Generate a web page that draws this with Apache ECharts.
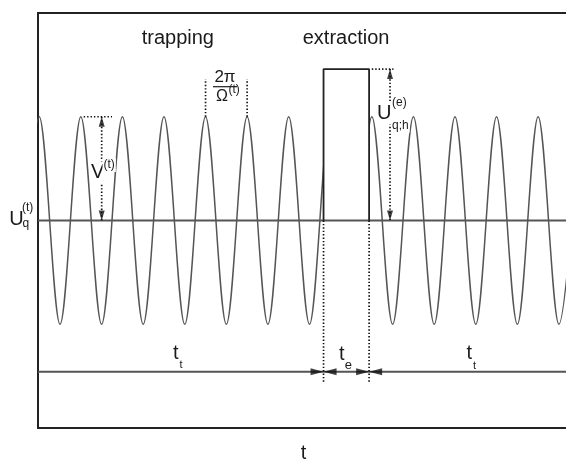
<!DOCTYPE html>
<html><head><meta charset="utf-8">
<script src="https://cdn.jsdelivr.net/npm/echarts@6/dist/echarts.min.js"></script>
<style>html,body{margin:0;padding:0;background:#fff}#c{width:566px;height:461px}</style>
</head><body><div id="c"></div>
<script>
// ---- data (time in RF periods, voltage in units of V(t)) ----
const tRange = [0, 12.7];
const uRange = [-2, 2];
const waveTimes  = [-0.47,0.03,0.53,1.03,1.53,2.03,2.53,3.03,3.53,4.03,4.53,5.03,5.53,6.03,6.53,7.03,7.53,8.03,8.53,9.03,9.53,10.03,10.53,11.03,11.53,12.03,12.53,13.03];
const waveLevels = [-1,1,-1,1,-1,1,-1,1,-1,1,-1,1,-1,1,-1,1,-1,1,-1,1,-1,1,-1,1,-1,1,-1,1];
const pulseTimes  = [6.868, 6.868, 7.964, 7.964];
const pulseLevels = [0, 1.46, 1.46, 0];
const baseLevel = 0;
const timeLineLevel = -1.457;
const edgeDropLevel = -1.557;
const vArrowTime = 1.532, vRefTimes = [1.1, 1.78], vPeak = 1;
const periodMarkTimes = [4.03, 5.03], periodMarkTop = 1.364;
const uArrowTime = 8.467, uRefTimes = [8.03, 8.55];
const phaseLabels = ['trapping', 'extraction'];

const FONT = '"Liberation Sans", Arial, sans-serif';
const INK = '#1a1a1a';

const chart = echarts.init(document.getElementById('c'), null, {renderer: 'canvas'});

function seg(p1, p2, style, z) {
  return {type: 'line', data: [p1, p2], showSymbol: false, silent: true, z: z || 5,
          lineStyle: style, animation: false};
}
const dotted = {color: '#111', width: 1.7, type: [1.4, 2.0]};
const tEnd = pulseTimes[3], tStart = pulseTimes[0], uTop = pulseLevels[1];

const arrowUp = 'path://M5,0L10,16L0,16Z';
const arrowDown = 'path://M0,0L10,0L5,16Z';
const arrowRight = 'path://M0,0L16,5L0,10Z';
const arrowLeft = 'path://M16,0L0,5L16,10Z';
const arrows = [
  {value: [vArrowTime, vPeak], symbol: arrowUp, symbolSize: [6, 10], symbolOffset: [0, 5]},
  {value: [vArrowTime, baseLevel], symbol: arrowDown, symbolSize: [6, 10], symbolOffset: [0, -5]},
  {value: [uArrowTime, uTop], symbol: arrowUp, symbolSize: [6, 10], symbolOffset: [0, 5]},
  {value: [uArrowTime, baseLevel], symbol: arrowDown, symbolSize: [6, 10], symbolOffset: [0, -5]},
  {value: [tStart, timeLineLevel], symbol: arrowRight, symbolSize: [13, 7], symbolOffset: [-6.5, 0]},
  {value: [tStart, timeLineLevel], symbol: arrowLeft, symbolSize: [13, 7], symbolOffset: [6.5, 0]},
  {value: [tEnd, timeLineLevel], symbol: arrowRight, symbolSize: [13, 7], symbolOffset: [-6.5, 0]},
  {value: [tEnd, timeLineLevel], symbol: arrowLeft, symbolSize: [13, 7], symbolOffset: [6.5, 0]}
];

function txt(text, x, y, size, opts) {
  opts = opts || {};
  return {type: 'text', z: 100, silent: true,
    style: Object.assign({text: text, x: x, y: y, font: size + 'px ' + FONT, fill: INK,
      align: opts.align || 'left', verticalAlign: 'middle'},
      opts.bg ? {backgroundColor: '#fff', padding: [1, 1, 1, 1]} : {})};
}

const axisLine = {show: true, onZero: false, lineStyle: {color: '#222', width: 2}};
const option = {
  animation: false,
  backgroundColor: '#fff',
  grid: {left: 38, right: 0, top: 13, bottom: 33},
  xAxis: [
    {type: 'value', min: tRange[0], max: tRange[1], position: 'bottom', axisLine: axisLine,
     axisTick: {show: false}, axisLabel: {show: false}, splitLine: {show: false}},
    {type: 'value', min: tRange[0], max: tRange[1], position: 'top', axisLine: axisLine,
     axisTick: {show: false}, axisLabel: {show: false}, splitLine: {show: false}}
  ],
  yAxis: {type: 'value', min: uRange[0], max: uRange[1], axisLine: axisLine,
    axisTick: {show: false}, axisLabel: {show: false}, splitLine: {show: false}},
  series: [
    {type: 'line', data: waveTimes.map((t, i) => [t, waveLevels[i]]), smooth: 0.333,
     showSymbol: false, silent: true, z: 2, lineStyle: {color: '#555', width: 1.5}},
    {type: 'custom', silent: true, z: 3, data: [[tStart, tEnd]],
     renderItem: function (params, api) {
       const a = api.coord([api.value(0), 1.15]);
       const b = api.coord([api.value(1), -1.15]);
       return {type: 'rect', shape: {x: a[0], y: a[1], width: b[0] - a[0], height: b[1] - a[1]},
               style: {fill: '#fff'}};
     }},
    seg([tRange[0], baseLevel], [tRange[1], baseLevel], {color: '#555', width: 2}, 4),
    seg([tRange[0], timeLineLevel], [tRange[1], timeLineLevel], {color: '#555', width: 2}, 4),
    {type: 'line', data: pulseTimes.map((t, i) => [t, pulseLevels[i]]), showSymbol: false,
     silent: true, z: 5, lineStyle: {color: '#222', width: 1.8}},
    seg([vRefTimes[0], vPeak], [vRefTimes[1], vPeak], dotted),
    seg([vArrowTime, vPeak], [vArrowTime, baseLevel], dotted),
    seg([periodMarkTimes[0], vPeak], [periodMarkTimes[0], periodMarkTop], dotted),
    seg([periodMarkTimes[1], vPeak], [periodMarkTimes[1], periodMarkTop], dotted),
    seg([uRefTimes[0], uTop], [uRefTimes[1], uTop], dotted),
    seg([uArrowTime, uTop], [uArrowTime, baseLevel], dotted),
    seg([tStart, baseLevel], [tStart, edgeDropLevel], dotted),
    seg([tEnd, baseLevel], [tEnd, edgeDropLevel], dotted),
    {type: 'scatter', data: arrows, silent: true, z: 6, itemStyle: {color: '#111'}}
  ],
  graphic: [
    txt(phaseLabels[0], 141.7, 38, 20),
    txt(phaseLabels[1], 302.7, 38, 20),
    txt('2\u03c0', 225, 77.5, 17, {align: 'center'}),
    {type: 'line', silent: true, z: 100, shape: {x1: 213, y1: 86.7, x2: 237, y2: 86.7},
     style: {stroke: INK, lineWidth: 1.2}},
    txt('\u03a9', 222, 96.5, 16, {align: 'center'}),
    txt('(t)', 228.5, 89.5, 12),
    txt('V', 90, 172.5, 20, {bg: true}),
    txt('(t)', 102.5, 165, 12, {bg: true}),
    txt('U', 9.3, 219, 20),
    txt('(t)', 22, 208, 12),
    txt('q', 22.5, 224, 12),
    txt('U', 376, 113.5, 20, {bg: true}),
    txt('(e)', 391, 103, 12, {bg: true}),
    txt('q;h', 391, 125.5, 12, {bg: true}),
    txt('t', 173, 353, 20),
    txt('t', 179.5, 365, 11),
    txt('t', 339, 354, 20),
    txt('e', 344.8, 365, 13),
    txt('t', 466.5, 353, 20),
    txt('t', 473, 365.5, 11),
    txt('t', 303.5, 453, 20, {align: 'center'})
  ]
};
chart.setOption(option);
</script></body></html>
